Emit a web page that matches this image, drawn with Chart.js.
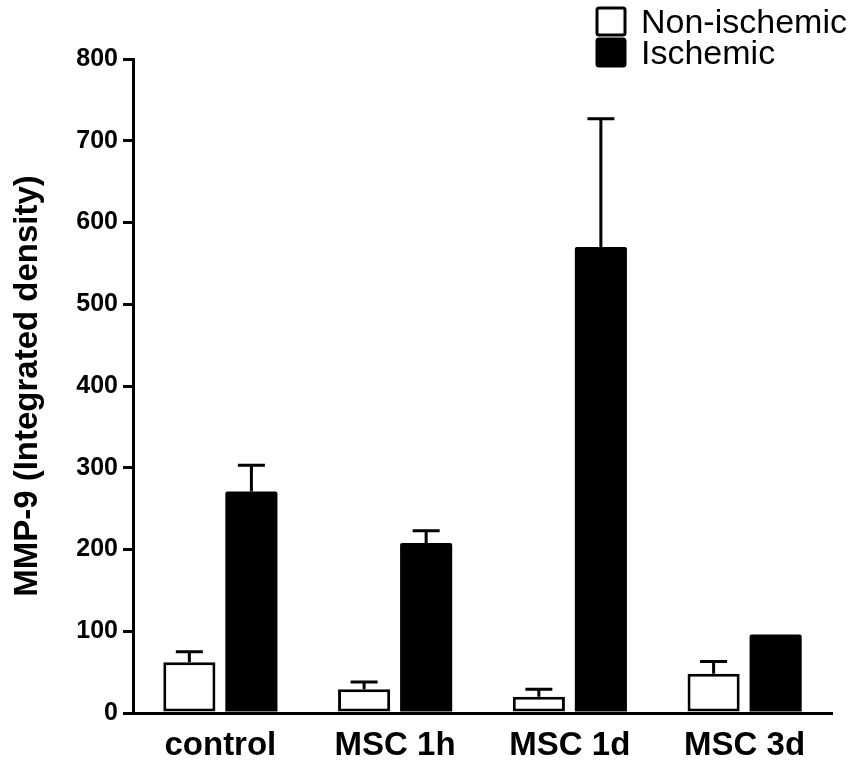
<!DOCTYPE html>
<html>
<head>
<meta charset="utf-8">
<script src="https://cdn.jsdelivr.net/npm/chart.js@4/dist/chart.umd.min.js"></script>
<style>
  html, body { margin: 0; padding: 0; background: #fff; }
  #wrap { width: 854px; height: 764px; }
</style>
</head>
<body>
<div id="wrap"><canvas id="grafico" width="854" height="764"></canvas></div>
<script>
const grupos = ['control', 'MSC 1h', 'MSC 1d', 'MSC 3d'];
const nonIschemic = [62, 29, 20, 48];
const nonIschemicErr = [13, 9, 9, 15];
const ischemic = [271, 208, 570, 96];
const ischemicErr = [32, 15, 157, 0];
const yTicks = [0, 100, 200, 300, 400, 500, 600, 700, 800];

const FUENTE = '"Liberation Sans", Arial, sans-serif';

// barras de error (solo hacia arriba, con tope horizontal)
const errorBars = {
  id: 'errorBars',
  afterDatasetsDraw(chart) {
    const ctx = chart.ctx;
    const y = chart.scales.y;
    ctx.save();
    ctx.strokeStyle = '#000';
    ctx.lineWidth = 3;
    chart.data.datasets.forEach((ds, i) => {
      const meta = chart.getDatasetMeta(i);
      meta.data.forEach((bar, j) => {
        const err = ds.errores[j];
        if (!err) return;
        const top = y.getPixelForValue(ds.data[j] + err);
        const base = y.getPixelForValue(ds.data[j]);
        ctx.beginPath();
        ctx.moveTo(bar.x, base);
        ctx.lineTo(bar.x, top);
        ctx.moveTo(bar.x - 13.5, top);
        ctx.lineTo(bar.x + 13.5, top);
        ctx.stroke();
      });
    });
    ctx.restore();
  }
};

// leyenda en la esquina superior derecha
const leyenda = {
  id: 'leyenda',
  afterDraw(chart) {
    const ctx = chart.ctx;
    ctx.save();
    ctx.font = '34px ' + FUENTE;
    ctx.textBaseline = 'middle';
    chart.data.datasets.forEach((ds, i) => {
      const top = 8 + i * 31;
      ctx.fillStyle = ds.backgroundColor;
      ctx.strokeStyle = '#000';
      ctx.lineWidth = 3;
      ctx.beginPath();
      ctx.roundRect(597, top, 28, 27, 2);
      ctx.fill();
      ctx.stroke();
      ctx.fillStyle = '#000';
      ctx.fillText(ds.label, 641, top + 16);
    });
    ctx.restore();
  }
};

new Chart(document.getElementById('grafico'), {
  type: 'bar',
  data: {
    labels: grupos,
    datasets: [
      {
        label: 'Non-ischemic',
        data: nonIschemic,
        errores: nonIschemicErr,
        backgroundColor: '#fff',
        borderColor: '#000',
        borderWidth: 3,
        borderSkipped: false
      },
      {
        label: 'Ischemic',
        data: ischemic,
        errores: ischemicErr,
        backgroundColor: '#000',
        borderColor: '#000',
        borderWidth: 0,
        borderRadius: { topLeft: 2, topRight: 2 }
      }
    ]
  },
  options: {
    responsive: false,
    animation: false,
    categoryPercentage: 0.71,
    barPercentage: 0.84,
    layout: { padding: { left: 0, right: 22, top: 59, bottom: 0 } },
    plugins: {
      legend: { display: false },
      tooltip: { enabled: false }
    },
    scales: {
      x: {
        grid: { display: false, drawTicks: false },
        border: { color: '#000', width: 3 },
        ticks: {
          color: '#000',
          padding: 13,
          font: { family: FUENTE, size: 33, weight: 'bold' }
        },
        afterFit(axis) { axis.height = 51; }
      },
      y: {
        min: 0,
        max: 800,
        afterBuildTicks(axis) { axis.ticks = yTicks.map(v => ({ value: v })); },
        grid: {
          drawOnChartArea: false,
          drawTicks: true,
          tickLength: 10,
          color: '#000',
          lineWidth: 3
        },
        border: { color: '#000', width: 3 },
        ticks: {
          color: '#000',
          padding: 5,
          font: { family: FUENTE, size: 25, weight: 'bold' }
        },
        title: {
          display: true,
          text: 'MMP-9 (Integrated density)',
          color: '#000',
          padding: { top: 8, bottom: 0 },
          font: { family: FUENTE, size: 33, weight: 'bold' }
        },
        afterFit(axis) { axis.width = 133; }
      }
    }
  },
  plugins: [errorBars, leyenda]
});
</script>
</body>
</html>
